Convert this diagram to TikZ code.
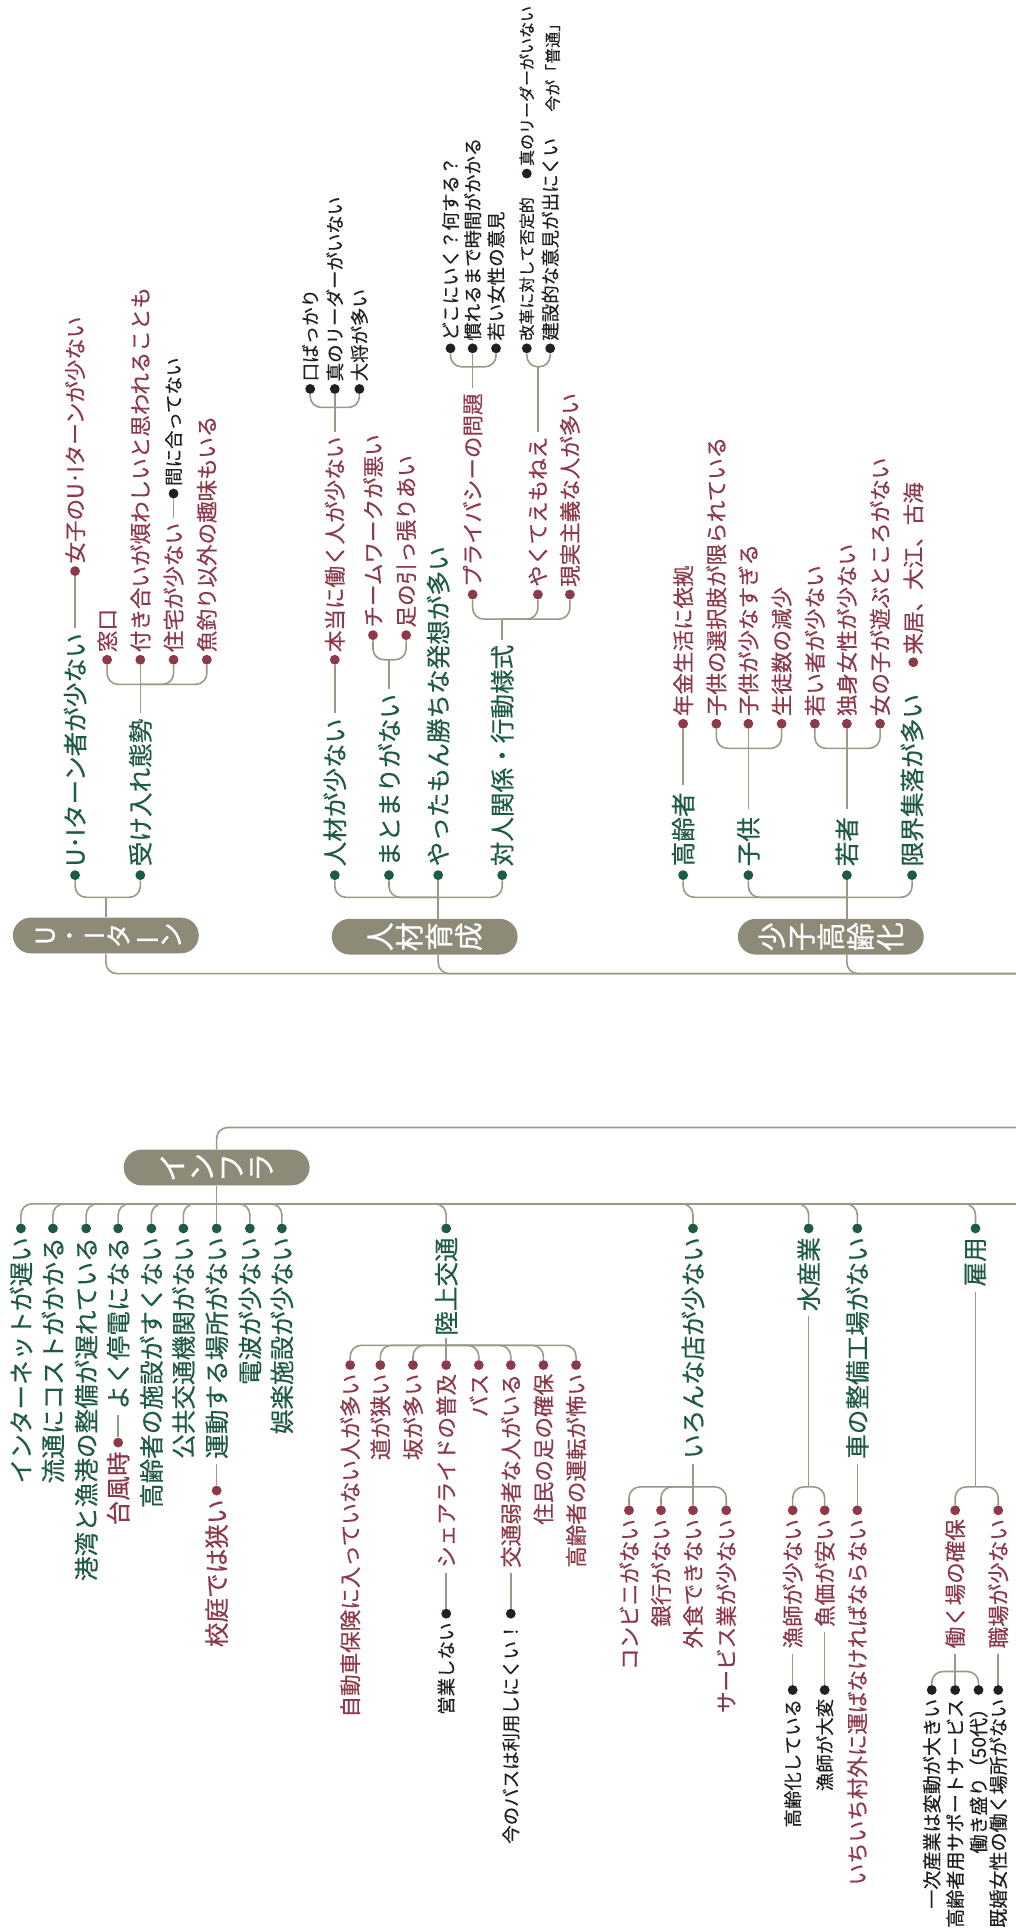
\documentclass[tikz,border=0pt]{standalone}
\usepackage{fontspec}
\setmainfont{Noto Sans CJK JP}[FakeBold=0.35]
\newfontfamily\boxfont{Noto Sans CJK JP}[FakeBold=0.6]
\usepackage{graphicx}
\definecolor{gC}{HTML}{1F5A45}
\definecolor{rC}{HTML}{8C3A4A}
\definecolor{kC}{HTML}{231F20}
\definecolor{boxC}{HTML}{8D8B78}
\definecolor{lnC}{HTML}{9B9886}
\tikzset{
 conn/.style={draw=lnC, line width=1.3pt, rounded corners=9pt},
 dotbase/.style={circle, inner sep=0pt, minimum size=8pt},
 dg/.style={dotbase, fill=gC},
 dr/.style={dotbase, fill=rC},
 dk/.style={dotbase, fill=kC},
 tx/.style={rotate=90, inner sep=0pt},
 tg/.style={tx, text=gC, font=\fontsize{20}{20}\selectfont},
 tr/.style={tx, text=rC, font=\fontsize{17.5}{17.5}\selectfont},
 trb/.style={tx, text=rC, font=\fontsize{20}{20}\selectfont},
 tk/.style={tx, text=kC, font=\fontsize{15}{15}\selectfont},
 tkm/.style={tx, text=kC, font=\fontsize{15.5}{15.5}\selectfont},
 tks/.style={tx, text=kC, font=\fontsize{13}{13}\selectfont},
 up/.style={anchor=west},
 dn/.style={anchor=east},
 catbox/.style={rounded corners=14.5pt, fill=boxC, minimum width=151pt, minimum height=29pt, inner sep=0pt},
 cattext/.style={rotate=90, text=white, align=center, inner sep=0pt, font=\boxfont\fontsize{23.5}{24}\selectfont}
}
\begin{document}
\begin{tikzpicture}[x=1pt,y=-1pt]
\fill[white] (0,0) rectangle (825,1568);
\useasboundingbox (0,0) rectangle (825,1568);

% ================= U・Iターン =================
\node[catbox] (B1) at (86,760) {};
\node[cattext, font=\boxfont\fontsize{21}{20}\selectfont] (B1t) at (88,760) {U\\･\\I\\タ\\\rotatebox[origin=c]{90}{ー}\\ン};
\coordinate (J1) at (86,729);
\draw[conn] (B1.north) -- (J1);
\node[dg] (a1) at (61,711) {};
\node[dg] (a2) at (114,711) {};
\draw[conn] (J1) -| (a1);
\draw[conn] (J1) -| (a2);
\node[tg,up] (a1t) at (61,704) {U･Iターン者が少ない};
\node[dr] (a11) at (61,464) {};
\draw[conn,shorten <=4pt] (a1t.east) -- (a11);
\node[tr,up] (a11t) at (61,458) {女子のU･Iターンが少ない};
\node[tg,up] (a2t) at (114,704) {受け入れ態勢};
\coordinate (J12) at (114,556);
\draw[conn,shorten <=4pt] (a2t.east) -- (J12);
\node[dr] (a21) at (87,536) {};
\node[dr] (a22) at (114,536) {};
\node[dr] (a23) at (141,536) {};
\node[dr] (a24) at (168,536) {};
\draw[conn] (J12) -| (a21);
\draw[conn] (J12) -- (a22);
\draw[conn] (J12) -| (a23);
\draw[conn] (J12) -| (a24);
\node[tr,up] (a21t) at (87,530) {窓口};
\node[tr,up] (a22t) at (114,530) {付き合いが煩わしいと思われることも};
\node[tr,up] (a23t) at (141,530) {住宅が少ない};
\node[tr,up] (a24t) at (168,530) {魚釣り以外の趣味もいる};
\node[dk] (a231) at (141,401) {};
\draw[conn,shorten <=4pt] (a23t.east) -- (a231);
\node[tk,up] (a231t) at (141,395) {間に合ってない};

% ================= 人材育成 =================
\node[catbox] (B2) at (345,761) {};
\node[cattext] (B2t) at (345,761) {人\\材\\育\\成};
\coordinate (J2) at (356,729);
\draw[conn] (J2 |- B2.north) -- (J2);
\node[dg] (b1) at (272,711) {};
\node[dg] (b2) at (316,711) {};
\node[dg] (b3) at (356,711) {};
\node[dg] (b4) at (408,711) {};
\draw[conn] (J2) -| (b1);
\draw[conn] (J2) -| (b2);
\draw[conn] (J2) -- (b3);
\draw[conn] (J2) -| (b4);
\node[tg,up] (b1t) at (272,704) {人材が少ない};
\node[dr] (b11) at (272,536) {};
\draw[conn,shorten <=4pt] (b1t.east) -- (b11);
\node[tr,up] (b11t) at (272,530) {本当に働く人が少ない};
\coordinate (J21) at (272,331);
\draw[conn,shorten <=4pt] (b11t.east) -- (J21);
\node[dk] (b111) at (252,316) {};
\node[dk] (b112) at (272,316) {};
\node[dk] (b113) at (292,316) {};
\draw[conn] (J21) -| (b111);
\draw[conn] (J21) -- (b112);
\draw[conn] (J21) -| (b113);
\node[tk,up] (b111t) at (252,310) {口ばっかり};
\node[tk,up] (b112t) at (272,310) {真のリーダーがいない};
\node[tk,up] (b113t) at (292,310) {大将が多い};

\node[tg,up] (b2t) at (316,704) {まとまりがない};
\coordinate (J22) at (316,536);
\draw[conn,shorten <=4pt] (b2t.east) -- (J22);
\node[dr] (b21) at (303,516) {};
\node[dr] (b22) at (330,516) {};
\draw[conn] (J22) -| (b21);
\draw[conn] (J22) -| (b22);
\node[tr,up] (b21t) at (303,510) {チームワークが悪い};
\node[tr,up] (b22t) at (330,510) {足の引っ張りあい};

\node[tg,up] (b3t) at (356,704) {やったもん勝ちな発想が多い};

\node[tg,up] (b4t) at (408,704) {対人関係・行動様式};
\coordinate (J24) at (408,503);
\draw[conn,shorten <=4pt] (b4t.east) -- (J24);
\node[dr] (b41) at (384,483) {};
\node[dr] (b42) at (437,483) {};
\node[dr] (b43) at (463,483) {};
\draw[conn] (J24) -| (b41);
\draw[conn] (J24) -| (b42);
\draw[conn] (J24) -| (b43);
\node[tr,up] (b41t) at (384,477) {プライバシーの問題};
\node[tr,up] (b42t) at (437,477) {やくてえもねえ};
\node[tr,up] (b43t) at (463,477) {現実主義な人が多い};
\coordinate (J241) at (384,298);
\draw[conn,shorten <=4pt] (b41t.east) -- (J241);
\node[dk] (b411) at (366,283) {};
\node[dk] (b412) at (384,283) {};
\node[dk] (b413) at (403,283) {};
\draw[conn] (J241) -| (b411);
\draw[conn] (J241) -- (b412);
\draw[conn] (J241) -| (b413);
\node[tk,up] (b411t) at (366,277) {どこにいく？何する？};
\node[tk,up] (b412t) at (384,277) {慣れるまで時間がかかる};
\node[tk,up] (b413t) at (403,277) {若い女性の意見};
\coordinate (J242) at (437,298);
\draw[conn,shorten <=4pt] (b42t.east) -- (J242);
\node[dk] (b421) at (428,283) {};
\node[dk] (b422) at (447,283) {};
\draw[conn] (J242) -| (b421);
\draw[conn] (J242) -| (b422);
\node[tks,up] (b421t) at (428,277) {改革に対して否定的};
\node[tk,up] (b422t) at (447,277) {建設的な意見が出にくい};
\node[dk] (b4211) at (428,141) {};
\node[tks,up] (b4211t) at (428,135) {真のリーダーがいない};
\node[tks,up] (b4221t) at (449,91) {今が「普通」};

% ================= 少子高齢化 =================
\node[catbox] (B3) at (675,761) {};
\node[cattext] (B3t) at (675,761) {少\\子\\高\\齢\\化};
\coordinate (J3) at (688,729);
\draw[conn] (J3 |- B3.north) -- (J3);
\node[dg] (c1) at (555,711) {};
\node[dg] (c2) at (608,711) {};
\node[dg] (c3) at (688,711) {};
\node[dg] (c4) at (741,711) {};
\draw[conn] (J3) -| (c1);
\draw[conn] (J3) -| (c2);
\draw[conn] (J3) -- (c3);
\draw[conn] (J3) -| (c4);
\node[tg,up] (c1t) at (555,704) {高齢者};
\node[tg,up] (c2t) at (608,704) {子供};
\node[tg,up] (c3t) at (688,704) {若者};
\node[tg,up] (c4t) at (741,704) {限界集落が多い};
\node[dr] (c11) at (555,588) {};
\draw[conn,shorten <=6pt] (c1t.east) -- (c11);
\node[tr,up] (c11t) at (555,582) {年金生活に依拠};
\coordinate (J32) at (608,608);
\draw[conn,shorten <=6pt] (c2t.east) -- (J32);
\node[dr] (c21) at (582,588) {};
\node[dr] (c22) at (608,588) {};
\node[dr] (c23) at (635,588) {};
\draw[conn] (J32) -| (c21);
\draw[conn] (J32) -- (c22);
\draw[conn] (J32) -| (c23);
\node[tr,up] (c21t) at (582,582) {子供の選択肢が限られている};
\node[tr,up] (c22t) at (608,582) {子供が少なすぎる};
\node[tr,up] (c23t) at (635,582) {生徒数の減少};
\coordinate (J33) at (688,608);
\draw[conn,shorten <=6pt] (c3t.east) -- (J33);
\node[dr] (c31) at (662,588) {};
\node[dr] (c32) at (688,588) {};
\node[dr] (c33) at (715,588) {};
\draw[conn] (J33) -| (c31);
\draw[conn] (J33) -- (c32);
\draw[conn] (J33) -| (c33);
\node[tr,up] (c31t) at (662,582) {若い者が少ない};
\node[tr,up] (c32t) at (688,582) {独身女性が少ない};
\node[tr,up] (c33t) at (715,582) {女の子が遊ぶところがない};
\node[dr] (c41) at (742,538) {};
\node[tr,up] (c41t) at (742,532) {来居、大江、古海};

% ================= trunk 1 =================
\coordinate (E1) at (830,791);
\draw[conn] (B1.south) |- (E1);
\draw[conn] (J2 |- B2.south) |- (E1);
\draw[conn] (J3 |- B3.south) |- (E1);

% ================= インフラ =================
\node[catbox] (B4) at (176,948.5) {};
\node[cattext] (B4t) at (176,948.5) {イ\\ン\\フ\\ラ};
\coordinate (E2) at (830,916);
\draw[conn] (B4.north) |- (E2);
\coordinate (J4) at (176,978);
\coordinate (E3) at (830,978);
\draw[conn] (B4.south) -- (J4);
\draw[conn] (J4) -- (E3);
\node[dg] (i1) at (17,998) {};
\node[dg] (i2) at (43,998) {};
\node[dg] (i3) at (70,998) {};
\node[dg] (i4) at (96,998) {};
\node[dg] (i5) at (123,998) {};
\node[dg] (i6) at (149,998) {};
\node[dg] (i7) at (176,998) {};
\node[dg] (i8) at (203,998) {};
\node[dg] (i9) at (229,998) {};
\node[dg] (i10) at (362.5,998) {};
\node[dg] (i11) at (563,998) {};
\node[dg] (i12) at (657,998) {};
\node[dg] (i13) at (696.5,998) {};
\node[dg] (i14) at (792.5,998) {};
\foreach \n in {i1,i2,i3,i4,i5,i6,i8,i9,i10,i11,i12,i13,i14} \draw[conn] (J4) -| (\n);
\draw[conn] (J4) -- (i7);
\node[tg,dn] (i1t) at (17,1005) {インターネットが遅い};
\node[tg,dn] (i2t) at (43,1005) {流通にコストがかかる};
\node[tg,dn] (i3t) at (70,1005) {港湾と漁港の整備が遅れている};
\node[tg,dn] (i4t) at (96,1005) {よく停電になる};
\node[tg,dn] (i5t) at (123,1005) {高齢者の施設がすくない};
\node[tg,dn] (i6t) at (149,1005) {公共交通機関がない};
\node[tg,dn] (i7t) at (176,1005) {運動する場所がない};
\node[tg,dn] (i8t) at (203,1005) {電波が少ない};
\node[tg,dn] (i9t) at (229,1005) {娯楽施設が少ない};
\node[dr] (i41) at (96,1172) {};
\draw[conn,shorten <=4pt] (i4t.west) -- (i41);
\node[trb,dn] (i41t) at (96,1179) {台風時};
\node[dr] (i71) at (176,1211) {};
\draw[conn,shorten <=4pt] (i7t.west) -- (i71);
\node[trb,dn] (i71t) at (176,1218) {校庭では狭い};

% 陸上交通
\node[tg,dn] (i10t) at (362.5,1005) {陸上交通};
\coordinate (J5) at (362.5,1093);
\draw[conn,shorten <=2pt] (i10t.west) -- (J5);
\node[dr] (r1) at (284.5,1109) {};
\node[dr] (r2) at (309,1109) {};
\node[dr] (r3) at (335.5,1109) {};
\node[dr] (r4) at (362.5,1109) {};
\node[dr] (r5) at (389,1109) {};
\node[dr] (r6) at (415,1109) {};
\node[dr] (r7) at (441.5,1109) {};
\node[dr] (r8) at (468,1109) {};
\foreach \n in {r1,r2,r3,r5,r6,r7,r8} \draw[conn] (J5) -| (\n);
\draw[conn] (J5) -- (r4);
\node[tr,dn] (r1t) at (284.5,1116) {自動車保険に入っていない人が多い};
\node[tr,dn] (r2t) at (309,1116) {道が狭い};
\node[tr,dn] (r3t) at (335.5,1116) {坂が多い};
\node[tr,dn] (r4t) at (362.5,1116) {シェアライドの普及};
\node[tr,dn] (r5t) at (389,1116) {バス};
\node[tr,dn] (r6t) at (415,1116) {交通弱者な人がいる};
\node[tr,dn] (r7t) at (441.5,1116) {住民の足の確保};
\node[tr,dn] (r8t) at (468,1116) {高齢者の運転が怖い};
\node[dk] (r41) at (362.5,1311) {};
\draw[conn,shorten <=4pt] (r4t.west) -- (r41);
\node[tk,dn] (r41t) at (362.5,1318) {営業しない};
\node[dk] (r61) at (415,1311) {};
\draw[conn,shorten <=4pt] (r6t.west) -- (r61);
\node[tk,dn] (r61t) at (415,1318) {今のバスは利用しにくい！};

% いろんな店が少ない
\node[tg,dn] (i11t) at (563,1005) {いろんな店が少ない};
\coordinate (J6) at (563,1208);
\draw[conn,shorten <=4pt] (i11t.west) -- (J6);
\node[dr] (s1) at (511,1227) {};
\node[dr] (s2) at (537,1227) {};
\node[dr] (s3) at (563,1227) {};
\node[dr] (s4) at (590,1227) {};
\draw[conn] (J6) -| (s1);
\draw[conn] (J6) -| (s2);
\draw[conn] (J6) -- (s3);
\draw[conn] (J6) -| (s4);
\node[tr,dn] (s1t) at (511,1234) {コンビニがない};
\node[tr,dn] (s2t) at (537,1234) {銀行がない};
\node[tr,dn] (s3t) at (563,1234) {外食できない};
\node[tr,dn] (s4t) at (590,1234) {サービス業が少ない};

% 水産業
\node[tg,dn] (i12t) at (657,1005) {水産業};
\coordinate (J7) at (657,1208);
\draw[conn,shorten <=4pt] (i12t.west) -- (J7);
\node[dr] (f1) at (644,1227) {};
\node[dr] (f2) at (670,1227) {};
\draw[conn] (J7) -| (f1);
\draw[conn] (J7) -| (f2);
\node[tr,dn] (f1t) at (644,1234) {漁師が少ない};
\node[tr,dn] (f2t) at (670,1234) {魚価が安い};
\node[dk] (f11) at (644,1373) {};
\node[dk] (f21) at (670,1373) {};
\draw[conn,shorten <=4pt] (f1t.west) -- (f11);
\draw[conn,shorten <=4pt] (f2t.west) -- (f21);
\node[tk,dn] (f11t) at (644,1380) {高齢化している};
\node[tk,dn] (f21t) at (670,1380) {漁師が大変};

% 車の整備工場がない
\node[tg,dn] (i13t) at (696.5,1005) {車の整備工場がない};
\node[dr] (m1) at (696.5,1227) {};
\draw[conn,shorten <=4pt] (i13t.west) -- (m1);
\node[tr,dn] (m1t) at (696.5,1234) {いちいち村外に運ばなければならない};

% 雇用
\node[tg,dn] (i14t) at (792.5,1005) {雇用};
\coordinate (J8) at (792.5,1208);
\draw[conn,shorten <=4pt] (i14t.west) -- (J8);
\node[dr] (e1) at (776,1227) {};
\node[dr] (e2) at (811,1227) {};
\draw[conn] (J8) -| (e1);
\draw[conn] (J8) -| (e2);
\node[tr,dn] (e1t) at (776,1234) {働く場の確保};
\node[tr,dn] (e2t) at (811,1234) {職場が少ない};
\coordinate (J81) at (776,1358);
\draw[conn,shorten <=4pt] (e1t.west) -- (J81);
\node[dk] (e11) at (757,1373) {};
\node[dk] (e12) at (776,1373) {};
\node[dk] (e13) at (795,1373) {};
\draw[conn] (J81) -| (e11);
\draw[conn] (J81) -- (e12);
\draw[conn] (J81) -| (e13);
\node[tkm,dn] (e11t) at (757,1380) {一次産業は変動が大きい};
\node[tkm,dn] (e12t) at (776,1380) {高齢者用サポートサービス};
\node[tkm,dn] (e13t) at (795,1380) {働き盛り（50代）};
\node[dk] (e21) at (811,1373) {};
\draw[conn,shorten <=4pt] (e2t.west) -- (e21);
\node[tkm,dn] (e21t) at (811,1380) {既婚女性の働く場所がない};
\end{tikzpicture}
\end{document}
